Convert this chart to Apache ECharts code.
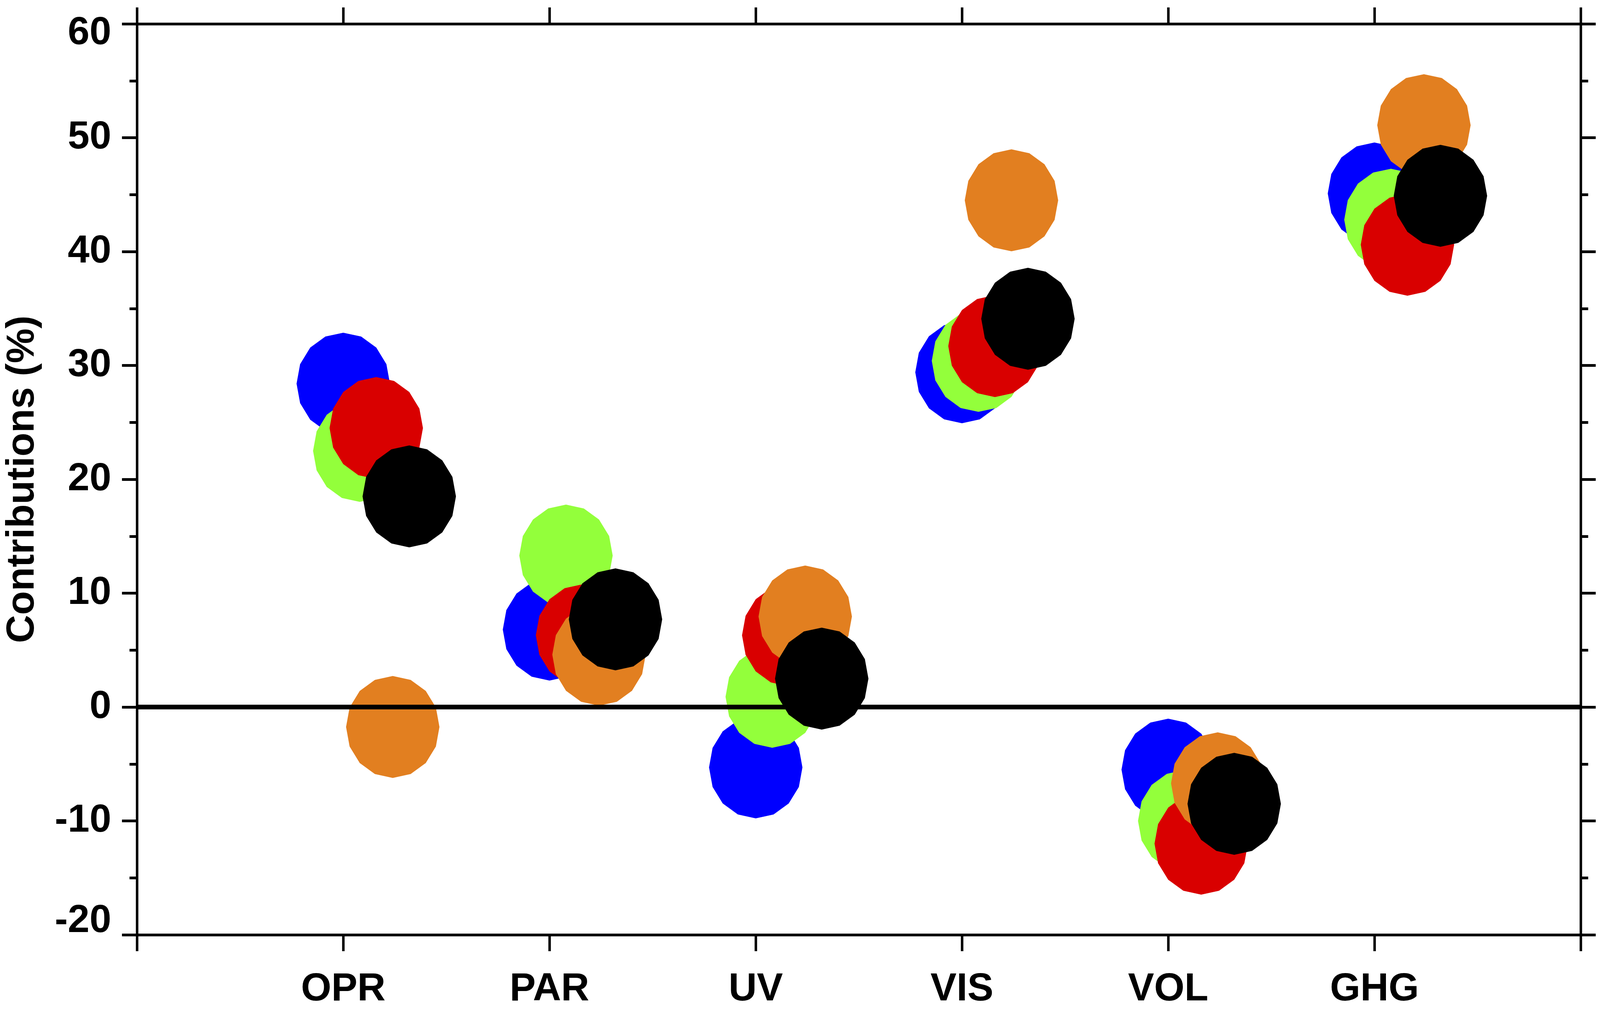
<!DOCTYPE html>
<html>
<head>
    <meta charset="utf-8">
    <title>Contributions</title>
    <script src="https://cdn.jsdelivr.net/npm/echarts@6/dist/echarts.min.js"></script>
    <style>
        html, body { margin: 0; padding: 0; background: #fff; overflow: hidden; }
        #main { width: 100vw; height: 100vh; }
    </style>
</head>
<body>
<div id="main"></div>
<script type="text/javascript">
    // categories along the bottom axis
    var categories = ['OPR', 'PAR', 'UV', 'VIS', 'VOL', 'GHG'];

    // contributions (%) per category, one array per coloured marker
    var blueVals   = [28.4,  6.8, -5.3, 29.4,  -5.5, 45.1];
    var greenVals  = [22.5, 13.3,  0.9, 30.4, -10.0, 42.8];
    var redVals    = [24.5,  6.3,  6.3, 31.7, -12.0, 40.6];
    var orangeVals = [-1.75, 4.6,  7.95, 44.5, -6.7, 51.1];
    var blackVals  = [18.5,  7.7,  2.5, 34.1,  -8.5, 44.9];

    // y axis range / ticks
    var yMin = -20, yMax = 60, yStep = 10;

    // horizontal shift of each marker group inside its category (axis units)
    var groupShift = [0, 0.08, 0.16, 0.24, 0.32];
    var groupColor = ['#0000ff', '#93ff3b', '#d90000', '#e27f20', '#000000'];
    var groupVals = [blueVals, greenVals, redVals, orangeVals, blackVals];

    var zeroLine = [[0, 0], [categories.length + 1, 0]];

    // layout measured on a 4471x2583 picture; map it onto the real viewport
    var sx = window.innerWidth / 4471;
    var sy = window.innerHeight / 2583;
    function px(v) { return v * sx; }
    function py(v) { return v * sy; }

    // 16-sided polygon, vertex on top, like the original marker
    function polygonPath(n) {
        var d = '';
        for (var i = 0; i < n; i++) {
            var a = Math.PI / 2 - i * 2 * Math.PI / n;
            var x = 50 + 50 * Math.cos(a);
            var y = 50 - 50 * Math.sin(a);
            d += (i === 0 ? 'M' : 'L') + x.toFixed(3) + ' ' + y.toFixed(3);
        }
        return 'path://' + d + 'Z';
    }
    var marker = polygonPath(16);

    var font = '"Liberation Sans Narrow", "Liberation Sans", Arial, sans-serif';
    var fs = py(100);

    var myChart = echarts.init(document.getElementById('main'));

    var series = groupVals.map(function (vals, g) {
        return {
            type: 'scatter',
            symbol: marker,
            symbolSize: [px(261), py(261)],
            symbolKeepAspect: false,
            itemStyle: { color: groupColor[g], opacity: 1 },
            data: vals.map(function (v, i) { return [i + 1 + groupShift[g], v]; }),
            z: 2 + g
        };
    });
    series.push({
        type: 'line',
        data: zeroLine,
        symbol: 'none',
        lineStyle: { color: '#000', width: py(12) },
        z: 20
    });

    var textBase = { color: '#000', fontSize: fs, fontWeight: 'bold', fontFamily: font };

    function xAxisDef(pos, showLabel) {
        return {
            type: 'value', position: pos,
            min: 0, max: categories.length + 1, interval: 1,
            axisLine: { show: true, onZero: false, lineStyle: { color: '#000', width: py(7) } },
            axisTick: { show: true, inside: false, length: py(42), lineStyle: { color: '#000', width: px(7) } },
            splitLine: { show: false },
            axisLabel: showLabel ? Object.assign({
                margin: py(90),
                formatter: function (v) { return categories[v - 1] || ''; }
            }, textBase) : { show: false }
        };
    }

    function yAxisDef(pos) {
        return {
            type: 'value', position: pos,
            min: yMin, max: yMax, interval: yStep,
            axisLine: { show: true, onZero: false, lineStyle: { color: '#000', width: px(7) } },
            axisTick: { show: true, inside: false, length: px(42), lineStyle: { color: '#000', width: py(7) } },
            minorTick: { show: true, splitNumber: 2, length: px(21), lineStyle: { color: '#000', width: py(7) } },
            splitLine: { show: false },
            minorSplitLine: { show: false },
            axisLabel: { show: false }
        };
    }

    var yLeft = yAxisDef('left');
    yLeft.name = 'Contributions (%)';
    yLeft.nameLocation = 'middle';
    yLeft.nameRotate = 90;
    yLeft.nameGap = px(265);
    yLeft.nameTextStyle = textBase;
    yLeft.axisLabel = Object.assign({
        margin: px(72),
        formatter: function (v) {
            // end labels are pulled inside the frame, as in the original
            if (v === yMax) return '{top|' + v + '}';
            if (v === yMin) return '{bot|' + v + '}';
            return String(v);
        },
        rich: {
            top: Object.assign({ padding: [py(48), 0, 0, 0] }, textBase),
            bot: Object.assign({ padding: [0, 0, py(70), 0] }, textBase)
        }
    }, textBase);

    var option = {
        animation: false,
        backgroundColor: '#fff',
        grid: { left: px(375), right: px(54), top: py(61), bottom: py(187) },
        xAxis: [xAxisDef('bottom', true), xAxisDef('top', false)],
        yAxis: [yLeft, yAxisDef('right')],
        series: series
    };

    myChart.setOption(option);
</script>
</body>
</html>
